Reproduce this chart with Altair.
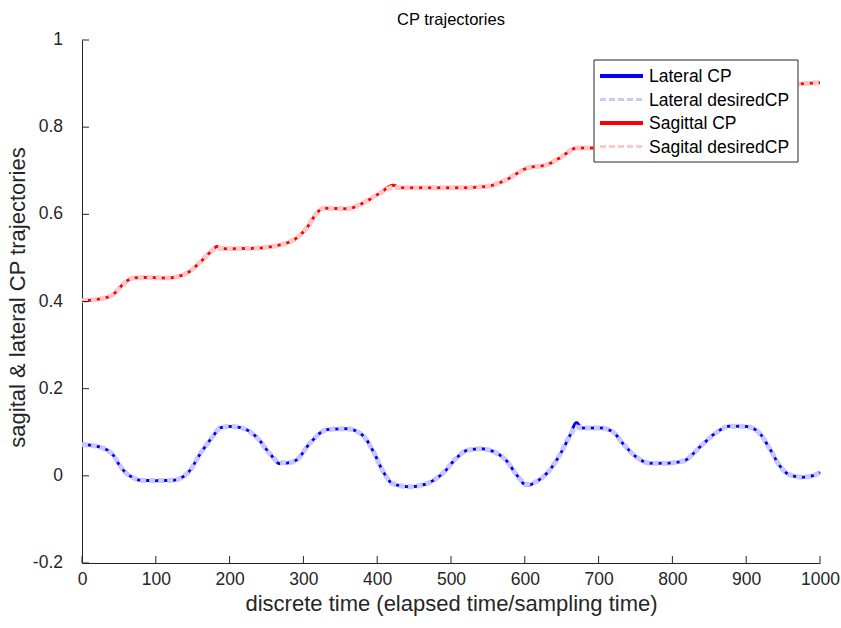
import altair as alt
import pandas as pd

# ---------------- data ----------------
lat_t = [0, 24, 42, 51, 60, 69, 79, 100, 124, 137, 146, 160, 178, 187, 200, 214,
         237, 255, 268, 280, 291, 309, 332, 359, 381, 395, 408, 421, 444, 467, 489,
         508, 521, 540, 557, 576, 589, 603, 616, 634, 648, 661, 670, 677, 702, 720,
         733, 752, 770, 790, 815, 837, 860, 878, 901, 919, 932, 946, 959, 977, 996, 1000]
lat_cp = [0.072, 0.066, 0.048, 0.024, 0.006, -0.004, -0.010, -0.011, -0.010, -0.002,
          0.012, 0.050, 0.092, 0.110, 0.113, 0.111, 0.088, 0.050, 0.028, 0.030, 0.037,
          0.075, 0.106, 0.108, 0.092, 0.055, 0.010, -0.018, -0.025, -0.018, 0.006,
          0.042, 0.058, 0.062, 0.056, 0.033, 0.002, -0.022, -0.013, 0.014, 0.050,
          0.092, 0.122, 0.110, 0.110, 0.100, 0.074, 0.042, 0.029, 0.029, 0.034, 0.066,
          0.100, 0.114, 0.113, 0.096, 0.062, 0.022, 0.002, -0.003, 0.004, 0.008]
lat_des = [0.072, 0.066, 0.048, 0.024, 0.006, -0.004, -0.010, -0.011, -0.010, -0.002,
           0.012, 0.050, 0.092, 0.110, 0.113, 0.111, 0.088, 0.050, 0.030, 0.030, 0.037,
           0.075, 0.106, 0.108, 0.092, 0.055, 0.010, -0.018, -0.025, -0.018, 0.006,
           0.042, 0.058, 0.062, 0.056, 0.033, 0.002, -0.020, -0.013, 0.014, 0.050,
           0.092, 0.112, 0.110, 0.110, 0.100, 0.074, 0.042, 0.029, 0.029, 0.034, 0.066,
           0.100, 0.114, 0.113, 0.096, 0.062, 0.022, 0.002, -0.003, 0.004, 0.008]

sag_t = [0, 24, 42, 56, 69, 90, 115, 142, 160, 175, 183, 191, 232, 268, 291, 305,
         316, 327, 359, 381, 404, 422, 431, 512, 548, 571, 603, 630, 648, 670, 690,
         720, 750, 775, 800, 830, 855, 880, 910, 940, 965, 980, 1000]
sag_cp = [0.402, 0.406, 0.416, 0.440, 0.454, 0.455, 0.454, 0.465, 0.490, 0.515,
          0.526, 0.521, 0.522, 0.530, 0.546, 0.570, 0.598, 0.614, 0.613, 0.626,
          0.649, 0.667, 0.661, 0.661, 0.664, 0.676, 0.706, 0.714, 0.730, 0.752,
          0.752, 0.755, 0.765, 0.790, 0.800, 0.803, 0.825, 0.850, 0.855, 0.875,
          0.898, 0.900, 0.902]
sag_des = [0.402, 0.406, 0.416, 0.440, 0.454, 0.455, 0.454, 0.465, 0.490, 0.515,
           0.522, 0.521, 0.522, 0.530, 0.546, 0.570, 0.598, 0.614, 0.613, 0.626,
           0.649, 0.662, 0.661, 0.661, 0.664, 0.676, 0.706, 0.714, 0.730, 0.752,
           0.752, 0.755, 0.765, 0.790, 0.800, 0.803, 0.825, 0.850, 0.855, 0.875,
           0.898, 0.900, 0.902]

series_names = ["Lateral CP", "Lateral desiredCP", "Sagittal CP", "Sagital desiredCP"]
series_colors = ["#0000ff", "#c8c8ff", "#ff0000", "#ffc8c8"]
series_dashes = [[1, 0], [6, 3], [1, 0], [6, 3]]

x_ticks = [0, 100, 200, 300, 400, 500, 600, 700, 800, 900, 1000]
y_ticks = [-0.2, 0, 0.2, 0.4, 0.6, 0.8, 1]
y_tick_labels = ["-0.2", "0", "0.2", "0.4", "0.6", "0.8", "1"]

# ---------------- tables ----------------
df_solid = pd.concat([
    pd.DataFrame({"t": lat_t, "v": lat_cp, "series": series_names[0], "o": range(len(lat_t))}),
    pd.DataFrame({"t": sag_t, "v": sag_cp, "series": series_names[2], "o": range(len(sag_t))}),
])
df_dash = pd.concat([
    pd.DataFrame({"t": lat_t, "v": lat_des, "series": series_names[1], "o": range(len(lat_t))}),
    pd.DataFrame({"t": sag_t, "v": sag_des, "series": series_names[3], "o": range(len(sag_t))}),
])

W, H = 738, 523
FONT = "Liberation Sans"
INK = "#262626"

xscale = alt.Scale(domain=[0, 1000], nice=False, zero=False)
yscale = alt.Scale(domain=[-0.2, 1], nice=False, zero=False)

color_enc = alt.Color("series:N", scale=alt.Scale(domain=series_names, range=series_colors), legend=None)
dash_enc = alt.StrokeDash("series:N", scale=alt.Scale(domain=series_names, range=series_dashes), legend=None)

x_axis = alt.Axis(values=x_ticks, title="discrete time (elapsed time/sampling time)",
                  format="d", labelFlush=False, labelOverlap=False,
                  ticks=True, tickSize=4, tickOpacity=0, labelPadding=3,
                  titlePadding=6, grid=False)
y_axis = alt.Axis(values=y_ticks, title="sagital & lateral CP trajectories",
                  ticks=False, labels=False, grid=False,
                  titleX=-65, titleY=257, titleBaseline="middle", titleAlign="center")

solid = alt.Chart(df_solid).mark_line(strokeWidth=3, interpolate="monotone").encode(
    x=alt.X("t:Q", scale=xscale, axis=x_axis),
    y=alt.Y("v:Q", scale=yscale, axis=y_axis),
    color=color_enc, strokeDash=dash_enc, order="o:Q",
)
dashed = alt.Chart(df_dash).mark_line(strokeWidth=5, interpolate="monotone").encode(
    x=alt.X("t:Q", scale=xscale, axis=x_axis),
    y=alt.Y("v:Q", scale=yscale, axis=y_axis),
    color=color_enc, strokeDash=dash_enc, order="o:Q",
)

# inward tick marks (MATLAB style)
xt = alt.Chart(pd.DataFrame({"t": x_ticks})).mark_rule(color=INK, strokeWidth=1).encode(
    x=alt.X("t:Q", scale=xscale, axis=x_axis), y=alt.value(H), y2=alt.value(H - 7))
yt = alt.Chart(pd.DataFrame({"v": y_ticks})).mark_rule(color=INK, strokeWidth=1).encode(
    y=alt.Y("v:Q", scale=yscale, axis=y_axis), x=alt.value(0), x2=alt.value(7))
# y tick labels placed left of the axis
ylab = alt.Chart(pd.DataFrame({"v": y_ticks, "lab": y_tick_labels})).mark_text(
    align="right", baseline="middle", font=FONT, fontSize=17.5, color=INK).encode(
    y=alt.Y("v:Q", scale=yscale, axis=y_axis), x=alt.value(-19), text="lab:N")

# ---------------- hand-built legend box ----------------
LX0, LX1, LY0, LY1 = 512, 716, 20, 122
row_y = [36, 59.5, 83, 106.5]
sym_w = [4, 3, 4, 3]
one = pd.DataFrame({"k": [0]})
legend_layers = [
    alt.Chart(one).mark_rect(fill="white", stroke=INK, strokeWidth=1).encode(
        x=alt.value(LX0), x2=alt.value(LX1), y=alt.value(LY0), y2=alt.value(LY1))
]
for i, name in enumerate(series_names):
    legend_layers.append(
        alt.Chart(one).mark_rule(color=series_colors[i], strokeWidth=sym_w[i],
                                 strokeDash=series_dashes[i]).encode(
            x=alt.value(LX0 + 6), x2=alt.value(LX0 + 49), y=alt.value(row_y[i])))
    legend_layers.append(
        alt.Chart(pd.DataFrame({"name": [name]})).mark_text(
            align="left", baseline="middle", font=FONT, fontSize=17.5, color="#000000").encode(
            x=alt.value(LX0 + 55), y=alt.value(row_y[i] + 1), text="name:N"))

chart = alt.layer(solid, dashed, xt, yt, ylab, *legend_layers).properties(
    width=W, height=H,
    title=alt.Title("CP trajectories", font=FONT, fontSize=16.5, fontWeight="normal",
                    color="#000000", offset=3),
    autosize=alt.AutoSizeParams(type="none"),
    padding={"left": 82, "top": 40, "right": 21, "bottom": 65},
).configure_view(stroke=None).configure_axis(
    domainColor=INK, domainWidth=1, labelColor=INK, titleColor=INK,
    labelFont=FONT, titleFont=FONT, labelFontSize=17.5, titleFontSize=22,
    titleFontWeight="normal",
)

chart.save("out.html", embed_options={"renderer": "svg", "actions": False})
